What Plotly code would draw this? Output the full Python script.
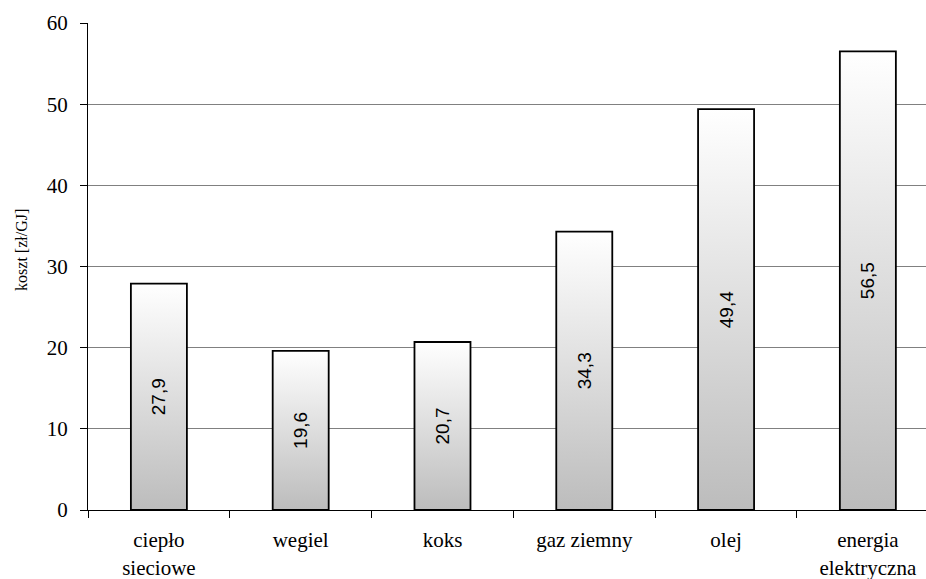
import plotly.graph_objects as go

categories = ["ciepło<br>sieciowe", "wegiel", "koks", "gaz ziemny", "olej", "energia<br>elektryczna"]
values = [27.9, 19.6, 20.7, 34.3, 49.4, 56.5]
y_ticks = [0, 10, 20, 30, 40, 50, 60]
y_title = "koszt [zł/GJ]"

BAR_W = 0.395
positions = list(range(len(categories)))

fig = go.Figure()

# gradient fills (main axes, drawn beneath the bar outlines)
for i, v in zip(positions, values):
    fig.add_trace(go.Scatter(
        x=[i - BAR_W / 2, i + BAR_W / 2, i + BAR_W / 2, i - BAR_W / 2, i - BAR_W / 2],
        y=[0, 0, v, v, 0],
        mode="lines", fill="toself",
        line=dict(width=0, color="rgba(0,0,0,0)"),
        fillgradient=dict(type="vertical", start=0, stop=v,
                          colorscale=[[0, "#bcbcbc"], [1, "#ffffff"]]),
        hoverinfo="skip", showlegend=False,
    ))

# bars with outlines and labels (overlay axes)
fig.add_trace(go.Bar(
    x=positions, y=values, width=BAR_W,
    xaxis="x2", yaxis="y2",
    marker=dict(color="rgba(0,0,0,0)", line=dict(color="black", width=1.8)),
    text=[f"{v:.1f}".replace(".", ",") for v in values],
    textposition="inside", insidetextanchor="middle", textangle=-90,
    textfont=dict(family="Liberation Sans", size=19, color="black"),
    constraintext="none",
    showlegend=False,
))

xr = [-0.5, 5.41]
fig.update_layout(
    width=926, height=579,
    margin=dict(l=88, r=0, t=23, b=69, autoexpand=False),
    paper_bgcolor="white", plot_bgcolor="white",
    font=dict(family="Liberation Serif", size=21, color="black"),
    xaxis=dict(
        range=xr, tickmode="array", tickvals=positions, ticktext=categories,
        ticks="", showgrid=False, zeroline=False, automargin=False,
        showline=True, linecolor="black", linewidth=1,
        tickfont=dict(family="Liberation Serif", size=21, color="black"),
        minor=dict(tickmode="linear", tick0=-0.5, dtick=1, ticks="outside",
                   ticklen=7, tickcolor="black", tickwidth=1, showgrid=False),
        ticklabelstandoff=11,
    ),
    yaxis=dict(
        range=[0, 60], tickmode="array", tickvals=y_ticks, automargin=False,
        ticks="outside", ticklen=7, tickcolor="black",
        showgrid=True, gridcolor="#808080", gridwidth=1, zeroline=False,
        showline=True, linecolor="black", linewidth=1,
        tickfont=dict(family="Liberation Serif", size=21, color="black"),
        ticklabelstandoff=8,
    ),
    xaxis2=dict(range=xr, overlaying="x", visible=False),
    yaxis2=dict(range=[0, 60], overlaying="y", visible=False),
    annotations=[dict(
        text=y_title, textangle=-90, showarrow=False,
        xref="paper", yref="paper", x=0, y=0.534, xshift=-66,
        xanchor="center", yanchor="middle",
        font=dict(family="Liberation Serif", size=16, color="black"),
    )],
)

fig.write_html("out.html", config={"displayModeBar": False},
               post_script="document.body.style.margin='0';document.body.style.overflow='hidden';")
